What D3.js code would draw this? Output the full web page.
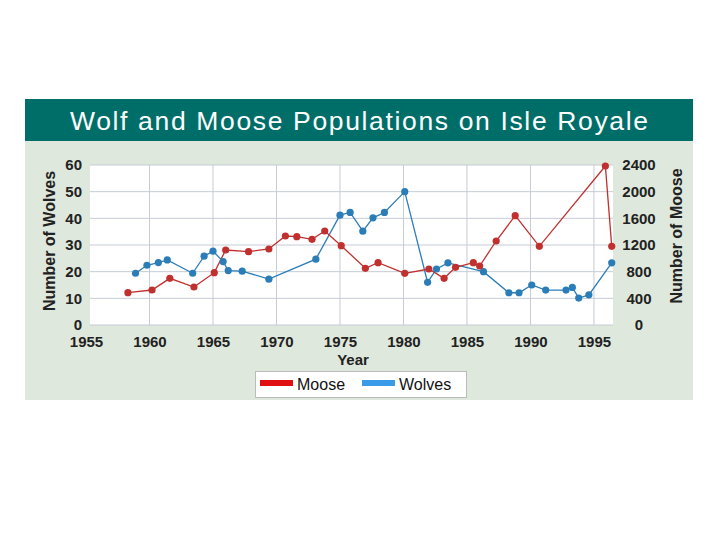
<!DOCTYPE html><html><head><script src="https://cdn.jsdelivr.net/npm/d3@7"></script>
<style>body{margin:0;background:#fff}text{font-family:"Liberation Sans",Arial,sans-serif}</style></head><body>
<svg id="c" width="720" height="540"></svg>
<script>
const wolfYears=[1958.9,1959.8,1960.7,1961.4,1963.4,1964.3,1965.0,1965.8,1966.2,1967.3,1969.4,1973.1,1975.0,1975.8,1976.8,1977.6,1978.5,1980.1,1981.9,1982.6,1983.5,1986.3,1988.3,1989.1,1990.1,1991.2,1992.8,1993.3,1993.8,1994.6,1996.4];
const wolves=[19.4,22.4,23.4,24.4,19.4,25.8,27.7,23.8,20.4,20.2,17.2,24.7,41.2,42.2,35.2,40.2,42.2,50,16,21,23.3,20,12.1,12.1,15,13.1,13.1,14.1,10.1,11.3,23.3];
const mooseYears=[1958.3,1960.2,1961.6,1963.5,1965.1,1966.0,1967.8,1969.4,1970.7,1971.6,1972.8,1973.8,1975.1,1977.0,1978.0,1980.1,1982.0,1983.2,1984.1,1985.5,1986.0,1987.3,1988.8,1990.7,1995.9,1996.4];
const moose=[485,525,700,570,785,1125,1100,1140,1335,1325,1285,1410,1190,850,935,775,840,700,865,935,885,1260,1640,1180,2385,1180];
const xTicks=[1955,1960,1965,1970,1975,1980,1985,1990,1995];
const wolfTicks=[0,10,20,30,40,50,60];
const mooseTicks=[0,400,800,1200,1600,2000,2400];
const svg=d3.select("#c");
svg.append("rect").attr("x",25).attr("y",141).attr("width",668).attr("height",259).attr("fill","#dfe8dc");
svg.append("rect").attr("x",25).attr("y",99).attr("width",668).attr("height",42).attr("fill","#006e68");
svg.append("text").attr("x",70).attr("y",130).attr("fill","#fff").attr("font-size",26.5).attr("textLength",578).attr("lengthAdjust","spacing").text("Wolf and Moose Populations on Isle Royale");
const x=d3.scaleLinear().domain([1955,1996.5]).range([86,613]);
const yW=d3.scaleLinear().domain([0,60]).range([325,165]);
const yM=d3.scaleLinear().domain([0,2400]).range([325,165]);
svg.append("rect").attr("x",90).attr("y",165).attr("width",523).attr("height",160).attr("fill","#fff");
const g=svg.append("g");
xTicks.slice(1).forEach(t=>g.append("line").attr("x1",x(t)).attr("x2",x(t)).attr("y1",165).attr("y2",325).attr("stroke","#c5ccd6"));
wolfTicks.forEach(t=>g.append("line").attr("x1",90).attr("x2",613).attr("y1",yW(t)).attr("y2",yW(t)).attr("stroke","#c5ccd6"));
const ax=svg.append("g").attr("transform","translate(0,325)").call(d3.axisBottom(x).tickValues(xTicks).tickFormat(d3.format("d")).tickSize(0).tickPadding(11));
const al=svg.append("g").attr("transform","translate(86,0)").call(d3.axisLeft(yW).tickValues(wolfTicks).tickSize(0).tickPadding(4));
const ar=svg.append("g").attr("transform","translate(617,0)").call(d3.axisRight(yM).tickValues(mooseTicks).tickFormat(d3.format("d")).tickSize(0).tickPadding(6));
[ax,al,ar].forEach(a=>{a.select(".domain").remove();a.selectAll("text").attr("font-size",15).attr("font-weight","bold").attr("fill","#222").style("font-family","Liberation Sans, Arial");});
ar.selectAll("text").attr("text-anchor","middle").attr("dx",16);
svg.append("text").attr("x",353).attr("y",365).attr("text-anchor","middle").attr("font-size",15).attr("font-weight","bold").attr("fill","#222").text("Year");
svg.append("text").attr("transform","translate(55,241) rotate(-90)").attr("text-anchor","middle").attr("font-size",16).attr("font-weight","bold").attr("fill","#222").text("Number of Wolves");
svg.append("text").attr("transform","translate(682,236) rotate(-90)").attr("text-anchor","middle").attr("font-size",16).attr("font-weight","bold").attr("fill","#222").text("Number of Moose");
const wd=wolfYears.map((y,i)=>[y,wolves[i]]), md=mooseYears.map((y,i)=>[y,moose[i]]);
const blue="#2b7db8", red="#c0302e";
svg.append("path").attr("d",d3.line().x(d=>x(d[0])).y(d=>yW(d[1]))(wd)).attr("fill","none").attr("stroke",blue).attr("stroke-width",1.3);
svg.append("path").attr("d",d3.line().x(d=>x(d[0])).y(d=>yM(d[1]))(md)).attr("fill","none").attr("stroke",red).attr("stroke-width",1.3);
svg.selectAll(".w").data(wd).enter().append("circle").attr("cx",d=>x(d[0])).attr("cy",d=>yW(d[1])).attr("r",3.6).attr("fill",blue);
svg.selectAll(".m").data(md).enter().append("circle").attr("cx",d=>x(d[0])).attr("cy",d=>yM(d[1])).attr("r",3.6).attr("fill",red);
svg.append("rect").attr("x",255.5).attr("y",371.5).attr("width",211).attr("height",26).attr("fill","#fff").attr("stroke","#bbb");
svg.append("rect").attr("x",260).attr("y",380).attr("width",33).attr("height",6).attr("fill","#e01010");
svg.append("text").attr("x",297).attr("y",390).attr("font-size",16).attr("fill","#111").text("Moose");
svg.append("rect").attr("x",362).attr("y",380).attr("width",33).attr("height",6).attr("fill","#3a9ce8");
svg.append("text").attr("x",399).attr("y",390).attr("font-size",16).attr("fill","#111").text("Wolves");
</script></body></html>
